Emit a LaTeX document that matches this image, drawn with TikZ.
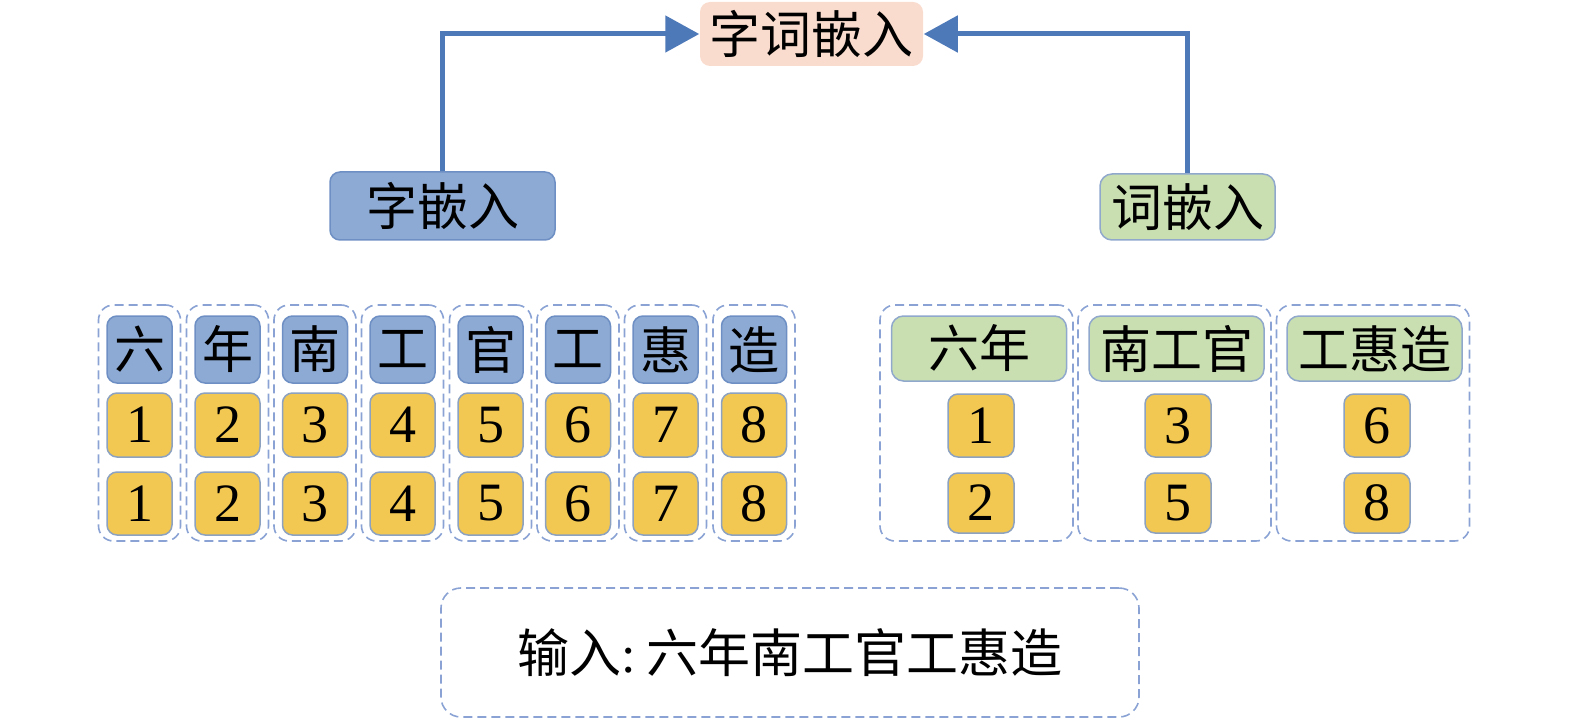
\documentclass[tikz,border=0pt]{standalone}
\usepackage{fontspec}
\setmainfont{Liberation Serif}
\newfontfamily\cjk{Noto Sans CJK SC}
\usetikzlibrary{arrows.meta}
\definecolor{bluefill}{HTML}{8DAAD4}
\definecolor{blueline}{HTML}{6E8FC4}
\definecolor{yellowfill}{HTML}{F2C852}
\definecolor{yellowline}{HTML}{8CA2C0}
\definecolor{greenfill}{HTML}{C9DFB1}
\definecolor{greenline}{HTML}{8FA8CC}
\definecolor{peachfill}{HTML}{FADCCE}
\definecolor{dashcol}{HTML}{8AA3D4}
\definecolor{arrowcol}{HTML}{4E79B9}
\tikzset{
  box/.style={inner sep=0pt, rounded corners=10pt, line width=1.5pt,
    font=\fontsize{54}{62}\selectfont},
  cjkfont/.style={font=\fontsize{51}{60}\selectfont\cjk},
  charbox/.style={box, draw=blueline, fill=bluefill, minimum width=65pt, minimum height=67pt, cjkfont},
  numbox/.style={box, draw=yellowline, fill=yellowfill, minimum width=65pt, minimum height=63pt},
  wordbox/.style={box, draw=greenline, fill=greenfill, rounded corners=12pt, minimum width=175pt, minimum height=65pt, cjkfont},
  dashbox/.style={draw=dashcol, line width=1.6pt, dash pattern=on 9pt off 5pt, rounded corners=15pt, inner sep=0pt},
  conn/.style={draw=arrowcol, line width=5pt, -{Triangle[length=34pt,width=36pt]}}
}
\begin{document}
\begin{tikzpicture}[x=1pt,y=-1pt]
\useasboundingbox (0,0) rectangle (1575,722);
% top
\node[box, fill=peachfill, minimum width=223pt, minimum height=64pt, cjkfont] (zc) at (811.5,34) {字词嵌入};
\node[box, draw=blueline, fill=bluefill, minimum width=225pt, minimum height=68pt, cjkfont] (zi) at (442.5,206) {字嵌入};
\node[wordbox, minimum width=175pt, minimum height=66pt] (ci) at (1187.5,207) {词嵌入};
\draw[conn] (zi.north) |- (zc.west);
\draw[conn] (ci.north) |- (zc.east);
% left group
\foreach \i/\x/\c in {1/139.5/六,2/227.5/年,3/315/南,4/402.5/工,5/490.5/官,6/578/工,7/665.5/惠,8/754/造}{
  \node[dashbox, minimum width=82pt, minimum height=236pt] (d\i) at (\x,423) {};
  \node[charbox] (c\i) at (\x,349.5) {\c};
  \node[numbox, minimum height=64pt] (n\i) at (\x,425) {\i};
  \node[numbox] (m\i) at (\x,503.5) {\i};
}
% right group
\foreach \j/\dx/\wx/\nx/\w/\a/\b in {1/976.5/979/981/六年/1/2, 2/1174.5/1176.5/1178/南工官/3/5, 3/1373/1374.5/1377/工惠造/6/8}{
  \node[dashbox, minimum width=193pt, minimum height=236pt] (e\j) at (\dx,423) {};
  \node[wordbox] (w\j) at (\wx,348.5) {\w};
  \node[numbox, minimum width=66pt] (p\j) at (\nx,425.5) {\a};
  \node[numbox, minimum width=66pt, minimum height=60pt] (q\j) at (\nx,503) {\b};
}
% bottom
\node[dashbox, rounded corners=20pt, minimum width=698pt, minimum height=129pt, font=\fontsize{52}{60}\selectfont] (inp) at (790,652.5) {{\cjk 输入}:\hspace{0.22em}{\cjk 六年南工官工惠造}};
\end{tikzpicture}
\end{document}
